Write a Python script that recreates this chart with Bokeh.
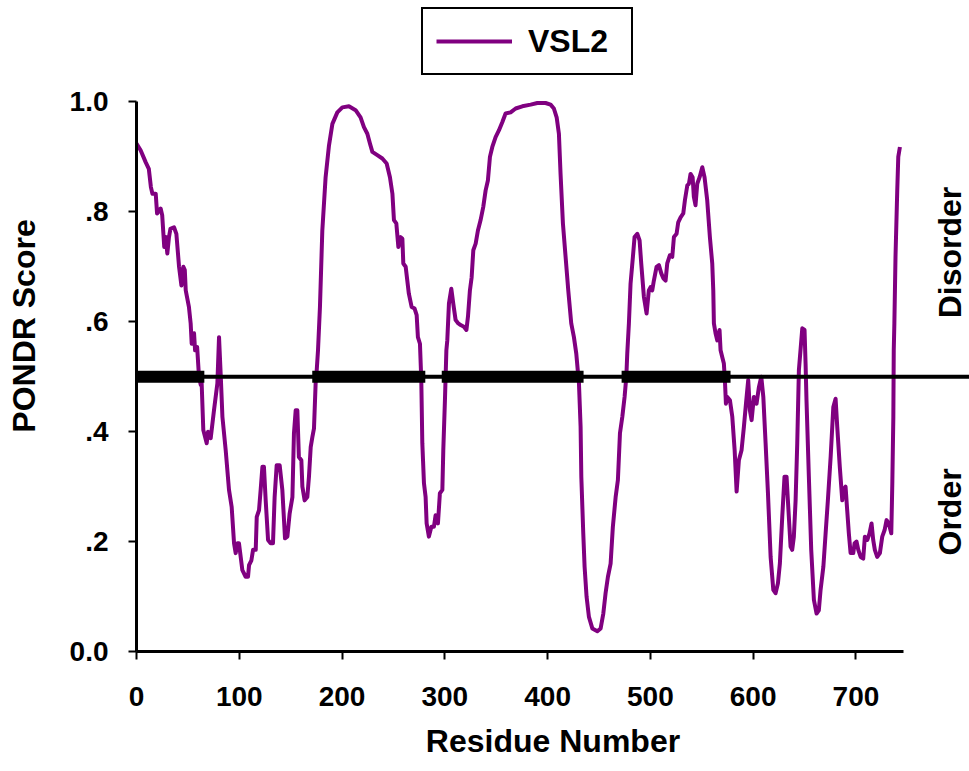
from bokeh.plotting import figure
from bokeh.models import Range1d, FixedTicker, Span, Label, Legend, LegendItem
from bokeh.embed import file_html
from bokeh.resources import INLINE

# ---- data ----
residue = [0, 4, 9, 12, 14, 15.5, 18.7, 20, 23.5, 25, 27, 28.4, 30, 31.6, 33, 36.5, 38.8, 41.4, 43.7, 45.6,
           47, 47.9, 51, 52.7, 53.7, 56, 57, 59, 60.8, 62.5, 63.4, 65, 68.3, 69.6, 72.2, 75.4, 78.7, 80.3, 82, 83.6,
           86.8, 90, 92.6, 94.9, 96.5, 98.2, 99.7, 103, 106.2, 108.5, 109.5, 111.8, 113.4, 116, 117, 119.2, 120.8,
           122.5, 124, 125.7, 128, 130.5, 132.8, 134.4, 136.4, 139.3, 141.9, 144.5, 146.8, 149, 151.7, 153.2, 154.9,
           156.5, 158, 160.4, 161.4, 163.6, 166.2, 167.8, 169.5, 171.1, 172.7, 174.3, 175.3, 176.6, 178.5, 180.8,
           184, 187.3, 190.6, 195.4, 200.3, 206.7, 213.2, 218, 221.3, 224.6, 227.2, 229.5, 234.3, 239.2, 243.4,
           246.6, 249, 250.5, 252.8, 254.8, 257, 258.7, 259.6, 261.9, 265, 267.7, 270.6, 272.6, 273.8, 275.8,
           277.1, 278.1, 279.7, 281.3, 282.3, 284.5, 286.9, 289.4, 291, 293.3, 295.2, 297.6, 298.5, 300.1, 301.5,
           302.4, 304, 306.3, 308.2, 310.5, 313.1, 315.4, 318.6, 321, 322.5, 324.4, 326.1, 327.7, 330, 332.2,
           334.8, 337.4, 339.7, 341.9, 343.9, 346.2, 349.4, 352.6, 355.9, 359.1, 364, 368.9, 375.4, 383.5, 390,
           398, 402.9, 406.1, 408.8, 411, 412.6, 414.9, 417.5, 420.1, 423, 425.6, 427.9, 429.9, 430.5, 432.1,
           432.8, 434.7, 436, 437.9, 440.2, 443.5, 448.4, 451.6, 454.2, 456.4, 458.7, 461.3, 463.5, 466.2, 468.4,
           470.4, 472.7, 474.9, 476.6, 477.5, 479.1, 480.7, 483, 484.6, 487.3, 489.5, 491.1, 493.7, 496.3, 498.5,
           500.2, 501.8, 503.4, 506, 508.3, 510.6, 512.6, 514.8, 516.4, 519, 521.3, 522.9, 525.5, 527.1, 529.4,
           532, 533.6, 535.9, 537.5, 539.1, 541.1, 542.3, 543.9, 545.6, 547.9, 550.5, 552.7, 555.3, 557.9, 560.2,
           561.2, 561.8, 563.4, 565.1, 567.3, 568.3, 569.9, 571.5, 572.5, 573.5, 574.8, 577.4, 579.7, 582, 583.9,
           586.1, 588.7, 591, 593.3, 595.2, 596.8, 598.5, 600.7, 603.3, 605.6, 607.9, 609.9, 612.1, 614.4, 617,
           619.6, 621.8, 624.1, 626, 628.3, 630.5, 632.5, 633.8, 636.4, 638, 639.6, 641.3, 642.9, 644.5, 647.8,
           650, 651, 651.9, 654.2, 656.5, 659.1, 661.7, 663.9, 665.6, 668.3, 670.5, 672.7, 675.4, 678, 680.2,
           681.8, 684.3, 686.7, 687.6, 689.9, 691.5, 693.1, 694.8, 697.4, 698.7, 700.6, 702.3, 704.6, 707.1,
           708.7, 711.1, 713.2, 715.2, 716.8, 718.4, 720.7, 723.3, 725.6, 727.9, 729.8, 732, 734.4, 735.4, 736.4,
           736.8, 737.4, 738.5, 740.2, 741.2, 742.8]
score = [0.924, 0.912, 0.89, 0.878, 0.845, 0.833, 0.833, 0.797, 0.806, 0.794, 0.736, 0.754, 0.724, 0.754, 0.769,
         0.772, 0.760, 0.70, 0.666, 0.70, 0.694, 0.657, 0.627, 0.597, 0.56, 0.579, 0.548, 0.554, 0.50, 0.485,
         0.488, 0.403, 0.379, 0.40, 0.388, 0.439, 0.488, 0.572, 0.50, 0.427, 0.366, 0.294, 0.263, 0.197, 0.179,
         0.197, 0.197, 0.148, 0.136, 0.136, 0.157, 0.166, 0.185, 0.185, 0.245, 0.257, 0.294, 0.336, 0.336, 0.275,
         0.203, 0.197, 0.197, 0.281, 0.339, 0.339, 0.294, 0.206, 0.209, 0.251, 0.281, 0.397, 0.439, 0.439, 0.354,
         0.348, 0.30, 0.275, 0.281, 0.318, 0.372, 0.39, 0.406, 0.488, 0.51, 0.548, 0.627, 0.766, 0.863, 0.921,
         0.96, 0.981, 0.99, 0.992, 0.985, 0.972, 0.954, 0.942, 0.924, 0.909, 0.903, 0.897, 0.888, 0.863, 0.833,
         0.785, 0.779, 0.736, 0.754, 0.751, 0.706, 0.70, 0.651, 0.627, 0.624, 0.612, 0.572, 0.56, 0.494, 0.379,
         0.306, 0.281, 0.233, 0.209, 0.227, 0.227, 0.248, 0.233, 0.288, 0.294, 0.366, 0.457, 0.548, 0.566, 0.633,
         0.66, 0.633, 0.603, 0.597, 0.594, 0.591, 0.585, 0.609, 0.657, 0.681, 0.73, 0.742, 0.766, 0.785, 0.809,
         0.839, 0.857, 0.90, 0.918, 0.936, 0.948, 0.963, 0.979, 0.981, 0.988, 0.992, 0.995, 0.998, 0.998, 0.995,
         0.988, 0.972, 0.942, 0.869, 0.779, 0.718, 0.657, 0.597, 0.572, 0.542, 0.50, 0.488, 0.409, 0.318, 0.215,
         0.154, 0.10, 0.063, 0.042, 0.037, 0.042, 0.069, 0.106, 0.136, 0.16, 0.227, 0.281, 0.312, 0.397, 0.427,
         0.463, 0.50, 0.542, 0.597, 0.669, 0.718, 0.754, 0.76, 0.748, 0.706, 0.645, 0.615, 0.657, 0.663, 0.657,
         0.675, 0.70, 0.703, 0.688, 0.679, 0.675, 0.706, 0.721, 0.718, 0.754, 0.76, 0.781, 0.79, 0.797, 0.821,
         0.848, 0.851, 0.869, 0.863, 0.827, 0.812, 0.851, 0.863, 0.881, 0.863, 0.821, 0.754, 0.706, 0.657, 0.597,
         0.579, 0.566, 0.585, 0.548, 0.536, 0.524, 0.494, 0.451, 0.463, 0.457, 0.427, 0.366, 0.291, 0.348, 0.366,
         0.409, 0.457, 0.494, 0.439, 0.421, 0.463, 0.451, 0.481, 0.50, 0.463, 0.379, 0.288, 0.172, 0.112, 0.106,
         0.124, 0.16, 0.245, 0.318, 0.318, 0.275, 0.191, 0.185, 0.209, 0.275, 0.379, 0.512, 0.588, 0.585, 0.524,
         0.457, 0.318, 0.185, 0.094, 0.069, 0.075, 0.112, 0.154, 0.215, 0.275, 0.354, 0.445, 0.46, 0.409, 0.336,
         0.275, 0.294, 0.30, 0.257, 0.215, 0.179, 0.179, 0.197, 0.20, 0.185, 0.172, 0.169, 0.209, 0.203, 0.215,
         0.233, 0.203, 0.185, 0.172, 0.179, 0.209, 0.221, 0.239, 0.233, 0.215, 0.306, 0.427, 0.548, 0.597, 0.718,
         0.839, 0.90, 0.918]

disorder_start = [0, 171, 297, 472]
disorder_end = [66, 281, 435, 578]
threshold = 0.5
series_name = "VSL2"
x_ticks = [0, 100, 200, 300, 400, 500, 600, 700]
y_ticks = [0.0, 0.2, 0.4, 0.6, 0.8, 1.0]
y_tick_labels = ["0.0", ".2", ".4", ".6", ".8", "1.0"]
side_labels = ["Disorder", "Order"]
side_label_y = [0.726, 0.254]

FONT = "Liberation Sans"
PURPLE = "#800080"

p = figure(width=969, height=771, output_backend="svg", toolbar_location=None,
           x_range=Range1d(0, 810.5), y_range=Range1d(0, 1.1845),
           min_border_left=136, min_border_right=0, min_border_top=0, min_border_bottom=120)
p.outline_line_color = None
p.grid.visible = False
p.background_fill_color = "white"
p.border_fill_color = "white"

curve = p.line(residue, score, line_width=4, color=PURPLE, line_join="round")

p.add_layout(Span(location=threshold, dimension="width", line_color="black", line_width=4))
p.segment(x0=disorder_start, y0=[threshold] * len(disorder_start),
          x1=disorder_end, y1=[threshold] * len(disorder_end),
          line_color="black", line_width=12, line_cap="butt")

# axes
for ax in (p.xaxis[0], p.yaxis[0]):
    ax.axis_line_width = 3
    ax.axis_line_color = "black"
    ax.major_tick_line_width = 2
    ax.major_tick_line_color = "black"
    ax.major_tick_out = 8
    ax.major_tick_in = 0
    ax.minor_tick_line_color = None
    ax.major_label_text_font = FONT
    ax.major_label_text_font_style = "bold"
    ax.major_label_text_font_size = "28px"
    ax.major_label_text_color = "black"
    ax.axis_label_text_font = FONT
    ax.axis_label_text_font_style = "bold"
    ax.axis_label_text_font_size = "32px"
    ax.axis_label_text_color = "black"

p.xaxis.ticker = FixedTicker(ticks=x_ticks)
p.xaxis.bounds = (0, 746)
p.xaxis.axis_label = "Residue Number"
p.xaxis.major_label_standoff = 27
p.xaxis.axis_label_standoff = 14

p.yaxis.ticker = FixedTicker(ticks=y_ticks)
p.yaxis.major_label_overrides = {v: s for v, s in zip(y_ticks, y_tick_labels)}
p.yaxis.bounds = (0, 1)
p.yaxis.axis_label = "PONDR Score"
p.yaxis.major_label_standoff = 20
p.yaxis.axis_label_standoff = 25

for txt, yy in zip(side_labels, side_label_y):
    p.add_layout(Label(x=792, y=yy, text=txt, angle=90, angle_units="deg",
                       text_align="center", text_baseline="middle",
                       text_font=FONT, text_font_style="bold", text_font_size="32px",
                       text_color="black"))

legend = Legend(items=[LegendItem(label=series_name, renderers=[curve])],
                location=(285, 576), orientation="vertical",
                padding=13, margin=0, spacing=0,
                glyph_width=76, glyph_height=38, label_standoff=16, label_width=90,
                label_text_font=FONT, label_text_font_style="bold", label_text_font_size="32px",
                label_text_color="black",
                border_line_color="black", border_line_width=2, border_line_alpha=1.0,
                background_fill_color="white", background_fill_alpha=1.0)
p.add_layout(legend)

open("out.html", "w").write(file_html(p, INLINE))
